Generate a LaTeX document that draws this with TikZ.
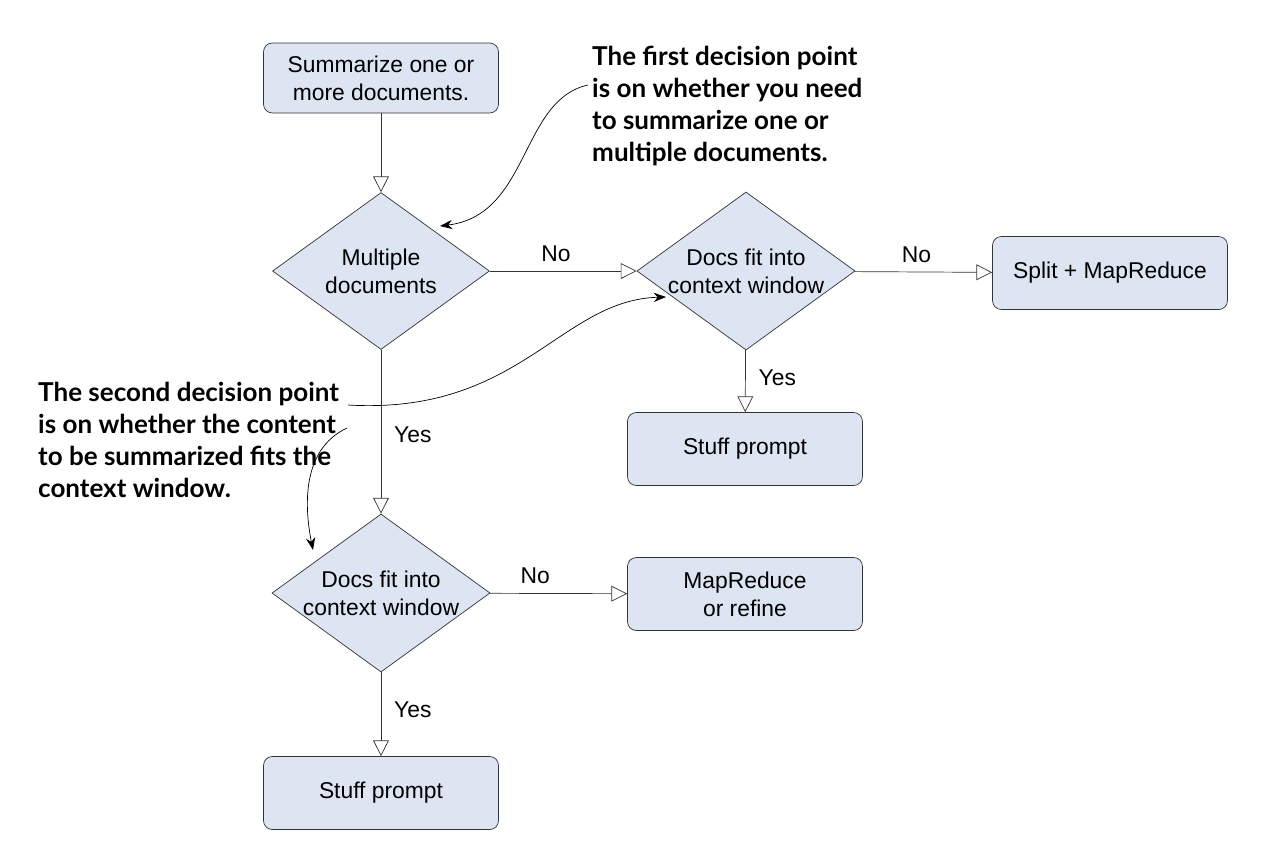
\documentclass[tikz,border=0pt]{standalone}
\usepackage{fontspec}
\setmainfont{Liberation Sans}
\newfontfamily\notefont{Lato}
\usetikzlibrary{positioning, arrows.meta, shapes.geometric}

\definecolor{boxfill}{HTML}{DDE5F2}
\definecolor{boxline}{HTML}{333333}

\tikzset{
	stepbox/.style={draw=boxline, fill=boxfill, rounded corners=5pt, minimum width=4.7cm, minimum height=1.46cm, align=center, font=\fontsize{13}{16}\selectfont},
	choice/.style={draw=boxline, fill=boxfill, diamond, aspect=1.38, minimum width=4.34cm, minimum height=3.14cm, inner sep=0pt, align=center, font=\fontsize{13}{16}\selectfont},
	flow/.style={draw=boxline, -{Triangle[open, length=9pt, width=9pt]}},
	note/.style={align=left, anchor=north west, font=\notefont\bfseries\fontsize{14.8}{18.2}\selectfont},
	pointer/.style={-{Stealth[length=7pt]}, thin},
	lbl/.style={font=\fontsize{13}{16}\selectfont}
}

\begin{document}
\begin{tikzpicture}[x=0.02cm, y=-0.02cm]
	\useasboundingbox (0,0) rectangle (1270,850);
	
	% Define nodes
	\node [stepbox, minimum height=1.4cm] (start) at (381,78) {Summarize one or\\more documents.};
	\node [choice] (multi) at (381,271) {Multiple\\documents};
	\node [choice] (fitA) at (746,271) {Docs fit into\\context window};
	\node [stepbox] (split) at (1110,273) {Split + MapReduce};
	\node [stepbox] (stuffA) at (745,449) {Stuff prompt};
	\node [choice] (fitB) at (381,593) {Docs fit into\\context window};
	\node [stepbox] (mapref) at (745,594) {MapReduce\\or refine};
	\node [stepbox] (stuffB) at (381,793) {Stuff prompt};
	
	% Arrows between blocks with labels
	\draw[flow] (start) -- (multi);
	\draw[flow] (multi) -- (fitA) node[lbl, pos=0.45, above=2pt] {No};
	\draw[flow] (fitA) -- (split) node[lbl, pos=0.45, above=2pt] {No};
	\draw[flow] (fitA) -- (stuffA) node[lbl, pos=0.45, right=4pt] {Yes};
	\draw[flow] (multi) -- (fitB) node[lbl, pos=0.52, right=4pt] {Yes};
	\draw[flow] (fitB) -- (mapref) node[lbl, pos=0.33, above=2pt] {No};
	\draw[flow] (fitB) -- (stuffB) node[lbl, pos=0.45, right=4pt] {Yes};
	
	% Callouts
	\node [note] (noteA) at (586,40) {The first decision point\\is on whether you need\\to summarize one or\\multiple documents.};
	\node [note] (noteB) at (32,376) {The second decision point\\is on whether the content\\to be summarized fits the\\context window.};
	\coordinate (tipA) at (440,226);
	\coordinate (tipB) at (666,297);
	\coordinate (tipC) at (313,550);
	\draw[pointer] (588,85) .. controls (520,100) and (530,215) .. (tipA);
	\draw[pointer] (348,405) .. controls (520,415) and (560,300) .. (tipB);
	\draw[pointer] (347,428) .. controls (300,450) and (305,510) .. (tipC);
\end{tikzpicture}
\end{document}
